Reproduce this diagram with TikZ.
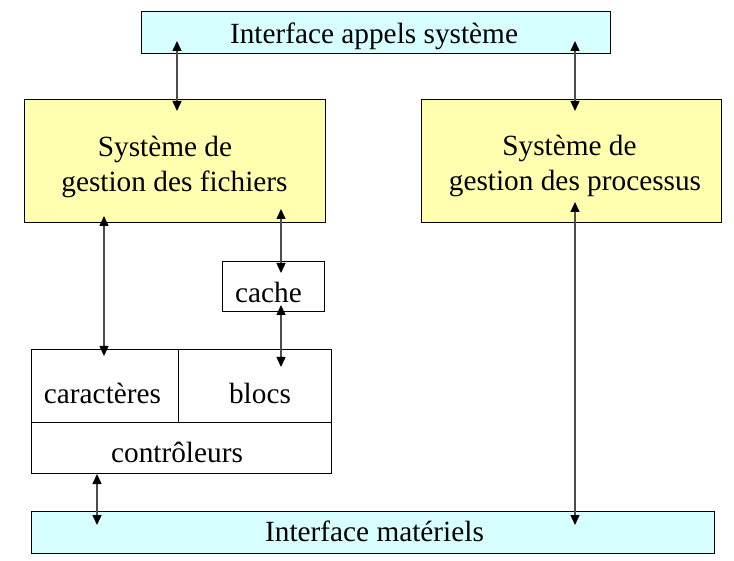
\documentclass[tikz,border=0pt]{standalone}
\usepackage{fontspec}
\setmainfont{Liberation Serif}
\usetikzlibrary{arrows.meta}
\definecolor{lcyan}{RGB}{215,255,255}
\definecolor{lyellow}{RGB}{255,255,175}
\tikzset{
  box/.style={draw=black, line width=0.9pt, inner sep=0pt},
  lbl/.style={inner sep=0pt, anchor=base, yshift=-3pt, font=\fontsize{29.3}{35}\selectfont},
  arr/.style={draw=black!70, line width=1.4pt,
    {Triangle[width=9pt,length=10pt,color=black]}-{Triangle[width=9pt,length=10pt,color=black]}},
}
\begin{document}
\begin{tikzpicture}[x=1pt,y=-1pt]
\useasboundingbox (0,0) rectangle (734,561);
% boxes
\node[box, fill=lcyan, minimum width=469pt, minimum height=42pt] (ais) at (375.5,32) {};
\node[box, fill=lyellow, minimum width=301pt, minimum height=123pt] (sgf) at (174.5,160.5) {};
\node[box, fill=lyellow, minimum width=300pt, minimum height=123pt] (sgp) at (571,160.5) {};
\node[box, minimum width=102pt, minimum height=50pt] (cache) at (273,286) {};
\node[box, minimum width=147pt, minimum height=73pt] (car) at (104.5,385.5) {};
\node[box, minimum width=153pt, minimum height=73pt] (blocs) at (254.5,385.5) {};
\node[box, minimum width=300pt, minimum height=51pt] (ctrl) at (181,447.5) {};
\node[box, fill=lcyan, minimum width=683pt, minimum height=42pt] (mat) at (372.5,532) {};
% texts
\node[lbl] (t1) at (374,41) {Interface appels système};
\node[lbl] (t2) at (165,154) {Système de};
\node[lbl] (t3) at (174.5,189) {gestion des fichiers};
\node[lbl] (t4) at (569.5,153) {Système de};
\node[lbl] (t5) at (575,188) {gestion des processus};
\node[lbl] (t6) at (268.5,300) {cache};
\node[lbl] (t7) at (102.5,400) {caractères};
\node[lbl] (t8) at (260,400) {blocs};
\node[lbl] (t9) at (177,459) {contrôleurs};
\node[lbl] (t10) at (374.5,538) {Interface matériels};
% arrow end points
\coordinate (a1t) at (177,41);
\coordinate (a1b) at (177,111);
\coordinate (a2t) at (575,41);
\coordinate (a2b) at (575,111);
\coordinate (a3t) at (104,216);
\coordinate (a3b) at (104,356);
\coordinate (a4t) at (281,209);
\coordinate (a4b) at (281,273);
\coordinate (a5t) at (281,305);
\coordinate (a5b) at (281,367);
\coordinate (a6t) at (97,474);
\coordinate (a6b) at (97,525);
\coordinate (a7t) at (575,202);
\coordinate (a7b) at (575,525);
% connectors
\draw[arr] (a1t) -- (a1b);
\draw[arr] (a2t) -- (a2b);
\draw[arr] (a3t) -- (a3b);
\draw[arr] (a4t) -- (a4b);
\draw[arr] (a5t) -- (a5b);
\draw[arr] (a6t) -- (a6b);
\draw[arr] (a7t) -- (a7b);
\end{tikzpicture}
\end{document}
